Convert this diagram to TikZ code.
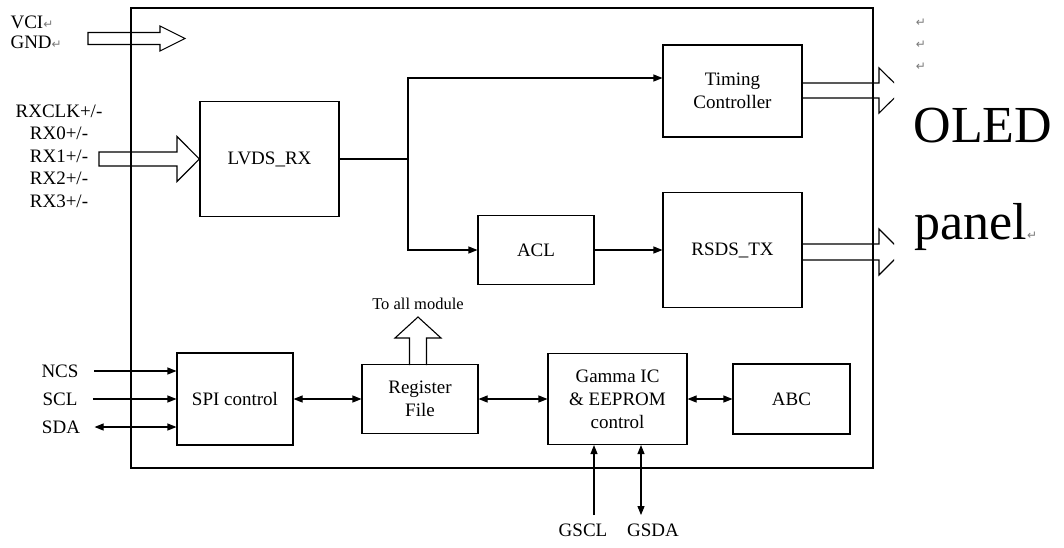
\documentclass[tikz,border=0pt]{standalone}
\usepackage{fontspec}
\setmainfont{Liberation Serif}
\newfontfamily\symfont{DejaVu Sans}
\usepackage{xcolor}
\usepackage{tikz}
\usetikzlibrary{arrows.meta,calc}
\definecolor{markgray}{HTML}{7A7A7A}
\newcommand{\parmark}{{\symfont\color{markgray}\fontsize{12}{12}\selectfont ↵}}

\begin{document}
\begin{tikzpicture}[x=1pt,y=-1pt,line width=1.1pt,
    >={Triangle[length=9pt,width=7pt]},
    every node/.style={font=\fontsize{19}{23}\selectfont,inner sep=2pt},
    block/.style={draw,align=center,inner sep=0pt},
    bigword/.style={font=\fontsize{52}{52}\selectfont,anchor=base west,inner sep=0pt}]
  \useasboundingbox (0,0) rectangle (1064,547);

  % chip outline
  \node[draw,minimum width=742pt,minimum height=460pt] (chip) at (502,238) {};

  % blocks
  \node[block,minimum width=139pt,minimum height=115pt] (lvds) at (269.5,159) {LVDS\_RX};
  \node[block,minimum width=139pt,minimum height=92pt] (tcon) at (732.5,91) {Timing\\Controller};
  \node[block,minimum width=116pt,minimum height=69pt] (acl) at (536,250) {ACL};
  \node[block,minimum width=139pt,minimum height=115pt] (rsds) at (732.5,250) {RSDS\_TX};
  \node[block,minimum width=116pt,minimum height=92pt] (spi) at (235,399) {SPI control};
  \node[block,minimum width=116pt,minimum height=69pt] (regf) at (420,399) {Register\\File};
  \node[block,minimum width=139pt,minimum height=91pt] (gamma) at (617.5,399) {Gamma IC\\\& EEPROM\\control};
  \node[block,minimum width=117pt,minimum height=70pt] (abc) at (791.5,399) {ABC};

  % data path
  \coordinate (split) at (408,159);
  \draw[->] (lvds.east) -- (split) |- ([yshift=13pt]tcon.west);
  \draw[->] (split) |- (acl.west);
  \draw[->] (acl) -- (rsds);

  % register bus
  \draw[<->] (spi) -- (regf);
  \draw[<->] (regf) -- (gamma);
  \draw[<->] (gamma) -- (abc);

  % SPI pins
  \node (ncs) at (60,371) {NCS};
  \node (scl) at (60,399) {SCL};
  \node (sda) at (61,427) {SDA};
  \draw[->] ([xshift=13pt]ncs.east) -- (spi.west |- ncs);
  \draw[->] ([xshift=13pt]scl.east) -- (spi.west |- scl);
  \draw[<->] ([xshift=12pt]sda.east) -- (spi.west |- sda);

  % gamma pins
  \node (gscl) at (583,530) {GSCL};
  \node (gsda) at (653,530) {GSDA};
  \coordinate (gsclx) at ([xshift=-23.5pt]gamma.south);
  \coordinate (gsdax) at ([xshift=23.5pt]gamma.south);
  \draw[->] ([yshift=6pt]gsclx |- gscl.north) -- (gsclx);
  \draw[<->] ([yshift=6pt]gsdax |- gsda.north) -- (gsdax);

  % power in
  \node[anchor=west] (vci) at (8,22) {VCI\parmark};
  \node[anchor=west] (gnd) at (8,42) {GND\parmark};
  \draw (88,32.5) -- (160,32.5) -- (160,26) -- (185,38.5) -- (160,51)
    -- (160,44.5) -- (88,44.5) -- cycle;

  % LVDS in
  \node[align=center,font=\fontsize{19}{22.5}\selectfont] (rxin) at (59,156)
    {RXCLK+/-\\RX0+/-\\RX1+/-\\RX2+/-\\RX3+/-};
  \draw (99,152) -- (177,152) -- (177,136.5) -- (lvds.west) -- (177,181.5)
    -- (177,166) -- (99,166) -- cycle;

  % register file out
  \draw (409.5,365) -- (409.5,338) -- (395,338) -- (418,317) -- (441,338)
    -- (426.5,338) -- (426.5,365);
  \node[font=\fontsize{16.5}{20}\selectfont] (toall) at (418,304) {To all module};

  % outputs to panel, tips hidden under the text
  \begin{scope}
    \clip (790,0) rectangle (894,547);
    \draw (802,83) -- (879,83) -- (879,68) -- (902,90.5) -- (879,113)
      -- (879,98) -- (802,98);
    \draw (802,244) -- (879,244) -- (879,229) -- (902,252) -- (879,275)
      -- (879,260) -- (802,260);
  \end{scope}

  \node[bigword] (oled) at (913,142) {OLED};
  \node[bigword] (panelword) at (914,239) {panel\parmark};
  \node (mark1) at (921,23) {\parmark};
  \node (mark2) at (921,45) {\parmark};
  \node (mark3) at (921,67) {\parmark};
\end{tikzpicture}
\end{document}
